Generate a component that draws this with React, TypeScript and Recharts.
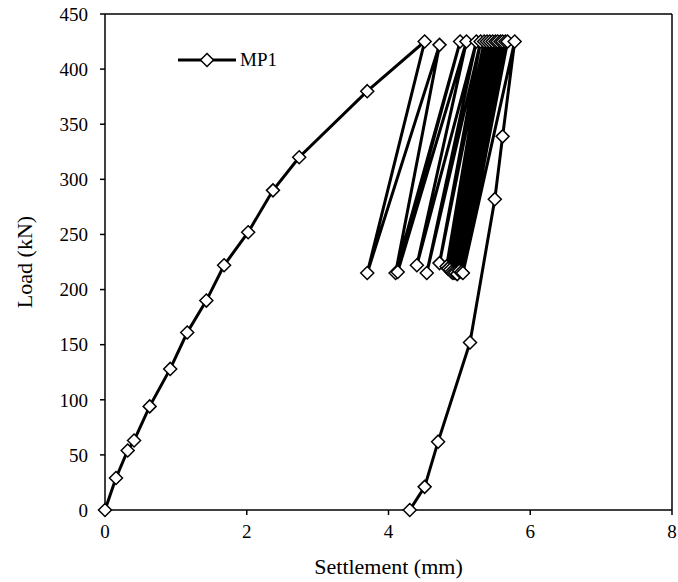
import React from "react";
import {
  LineChart,
  Line,
  XAxis,
  YAxis,
  ReferenceLine,
} from "recharts";

// first loading branch
const loadingSettlement = [0, 0.155, 0.32, 0.41, 0.63, 0.92, 1.16, 1.43, 1.68, 2.02, 2.37, 2.74, 3.7];
const loadingLoad = [0, 29, 54, 63, 94, 128, 161, 190, 222, 252, 290, 320, 380];

// cyclic part: peaks and troughs, alternating peak -> trough -> peak
const peakSettlement = [4.51, 4.72, 5.01, 5.1, 5.24, 5.3, 5.35, 5.39, 5.43, 5.47, 5.51, 5.54, 5.58, 5.61, 5.65, 5.68, 5.78];
const peakLoad = [425, 422, 425, 425, 425, 425, 425, 425, 425, 425, 425, 425, 425, 425, 425, 425, 425];
const troughSettlement = [3.7, 4.1, 4.13, 4.4, 4.54, 4.72, 4.82, 4.84, 4.87, 4.89, 4.91, 4.94, 4.97, 5.0, 5.03, 5.05];
const troughLoad = [215, 215, 216, 222, 215, 224, 221, 219, 218, 216, 215, 215, 214, 217, 216, 215];

// final unloading branch
const unloadingSettlement = [5.61, 5.5, 5.15, 4.7, 4.51, 4.3];
const unloadingLoad = [339, 282, 152, 62, 21, 0];

const xTicks = [0, 2, 4, 6, 8];
const yTicks = [0, 50, 100, 150, 200, 250, 300, 350, 400, 450];

const data: { x: number; y: number }[] = [];
loadingSettlement.forEach((x, i) => data.push({ x, y: loadingLoad[i] }));
peakSettlement.forEach((x, i) => {
  data.push({ x, y: peakLoad[i] });
  if (i < troughSettlement.length) data.push({ x: troughSettlement[i], y: troughLoad[i] });
});
unloadingSettlement.forEach((x, i) => data.push({ x, y: unloadingLoad[i] }));

const FONT = "'Liberation Serif', 'Times New Roman', serif";

function Diamond(props: any) {
  const { cx, cy, index } = props;
  if (cx == null || cy == null) return <g key={index} />;
  const r = 6.5;
  return (
    <path
      key={index}
      d={`M${cx},${cy - r}L${cx + r},${cy}L${cx},${cy + r}L${cx - r},${cy}Z`}
      fill="#fff"
      stroke="#000"
      strokeWidth={1.5}
    />
  );
}

export default function App() {
  const tick = { fontSize: 19, fill: "#000", fontFamily: FONT };
  return (
    <div style={{ position: "absolute", left: 0, top: 0, width: 678, height: 582 }}>
      <LineChart
        width={678}
        height={582}
        data={data}
        margin={{ top: 14, right: 6, left: 45, bottom: 32 }}
      >
        <XAxis
          dataKey="x"
          type="number"
          domain={[0, 8]}
          ticks={xTicks}
          tick={tick}
          tickSize={5}
          tickMargin={10}
          stroke="#000"
          strokeWidth={1.5}
          height={40}
          label={{
            value: "Settlement (mm)",
            position: "insideBottom",
            offset: -24,
            style: { fontSize: 22, fill: "#000", fontFamily: FONT },
          }}
        />
        <YAxis
          dataKey="y"
          type="number"
          domain={[0, 450]}
          ticks={yTicks}
          tick={tick}
          tickSize={5}
          tickMargin={12}
          stroke="#000"
          strokeWidth={1.5}
          width={60}
          label={{
            value: "Load (kN)",
            angle: -90,
            position: "insideLeft",
            offset: -21,
            style: { fontSize: 22, fill: "#000", fontFamily: FONT, textAnchor: "middle" },
          }}
        />
        <ReferenceLine y={450} stroke="#000" strokeWidth={1.5} />
        <ReferenceLine x={8} stroke="#000" strokeWidth={1.5} />
        <Line
          type="linear"
          dataKey="y"
          stroke="#000"
          strokeWidth={3}
          dot={Diamond}
          activeDot={false}
          isAnimationActive={false}
        />
      </LineChart>
      <svg
        width={120}
        height={24}
        style={{ position: "absolute", left: 176, top: 48 }}
      >
        <line x1={2} y1={12} x2={60} y2={12} stroke="#000" strokeWidth={3} />
        <Diamond cx={31} cy={12} index={0} />
        <text x={64} y={18} fontSize={19} fontFamily={FONT} fill="#000">
          MP1
        </text>
      </svg>
    </div>
  );
}
